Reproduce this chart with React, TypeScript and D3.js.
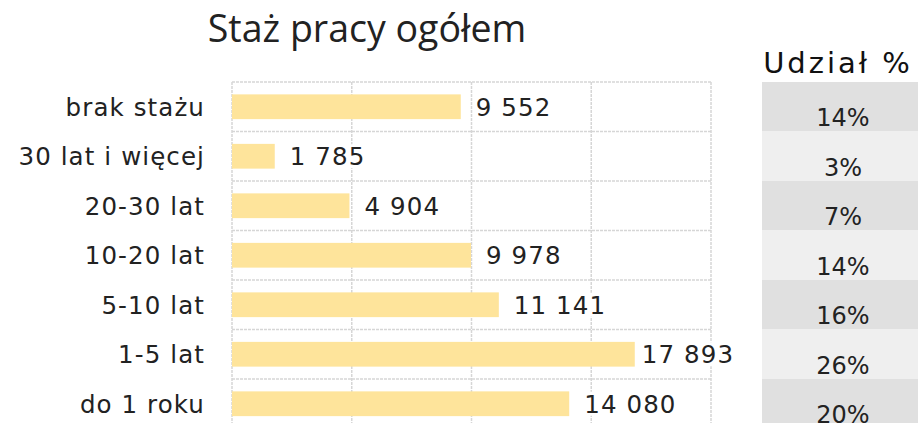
import React from "react";
import * as d3 from "d3";

const categories = ["brak stażu", "30 lat i więcej", "20-30 lat", "10-20 lat", "5-10 lat", "1-5 lat", "do 1 roku"];
const values = [9552, 1785, 4904, 9978, 11141, 17893, 14080];
const xTicks = [0, 5000, 10000, 15000, 20000];
const title = "Staż pracy ogółem";
const tableTitle = "Udział %";

const W = 918;
const H = 423;
const FONT = "'DejaVu Sans', sans-serif";
const TITLE_FONT = "'Open Sans', sans-serif";
const FS = 24.5;
const LS = 1.1;

const pl = d3.formatLocale({ decimal: ",", thousands: "\u00a0", grouping: [3], currency: ["", " zł"] });
const fmtNum = pl.format(",d");
const fmtPct = d3.format(".0%");

function measure(text: string, font: string, ls: number): number {
  if (typeof document === "undefined") return text.length * 13;
  const c = document.createElement("canvas");
  const ctx = c.getContext("2d");
  if (!ctx) return text.length * 13;
  ctx.font = font;
  return ctx.measureText(text).width + ls * (text.length - 1);
}

export default function App() {
  const x = d3.scaleLinear().domain([0, 20000]).range([232, 711]);
  const rows = d3.scaleBand<string>().domain(categories).range([82, 82 + 7 * 49.5]).padding(0);
  const step = rows.bandwidth();
  const total = d3.sum(values);
  const labelLimit = 733;
  const valFont = `${FS}px ${FONT}`;

  return (
    <svg width={W} height={H} style={{ position: "absolute", left: 0, top: 0, display: "block", background: "#fff" }}>
      <text x={367} y={42} textAnchor="middle" fontFamily={TITLE_FONT} fontSize={37.5} fill="#222">{title}</text>

      {/* grid */}
      <g stroke="#d6d6d6" strokeWidth={1.5} strokeDasharray="3 1">
        {xTicks.map((t) => (
          <line key={"v" + t} x1={x(t)} x2={x(t)} y1={rows.range()[0]} y2={rows.range()[1]} />
        ))}
        {categories.map((c) => (
          <line key={"h" + c} x1={x(0)} x2={x(20000)} y1={rows(c)!} y2={rows(c)!} />
        ))}
        <line x1={x(0)} x2={x(20000)} y1={rows.range()[1]} y2={rows.range()[1]} />
      </g>

      {/* bars & labels */}
      {categories.map((c, i) => {
        const v = values[i];
        const label = fmtNum(v);
        const lw = measure(label, valFont, LS);
        let barEnd = x(v);
        let lx = barEnd + 15;
        if (lx + lw > labelLimit) {
          lx = labelLimit - lw;
          barEnd = lx - 7;
        }
        const y0 = rows(c)!;
        const cy = y0 + step / 2;
        return (
          <g key={c}>
            <rect x={x(0)} y={y0 + step * 0.25} width={barEnd - x(0)} height={step * 0.5} fill="#fee49b" />
            <rect x={lx - 2} y={cy - 12} width={lw + 4} height={24} fill="#fff" />
            <text x={lx} y={cy + 9} fontFamily={FONT} fontSize={FS} letterSpacing={LS} fill="#222">{label}</text>
            <text x={205} y={cy + 9} textAnchor="end" fontFamily={FONT} fontSize={FS} letterSpacing={LS} fill="#222">{c}</text>
          </g>
        );
      })}

      {/* share table */}
      <text x={838} y={73} textAnchor="middle" fontFamily={FONT} fontSize={29} letterSpacing={3} fill="#111">{tableTitle}</text>
      {categories.map((c, i) => {
        const y0 = rows(c)!;
        return (
          <g key={"t" + c}>
            <rect x={762} y={y0} width={W - 762} height={step} fill={i % 2 === 0 ? "#e0e0e0" : "#efefef"} />
            <text x={843} y={y0 + 44} textAnchor="middle" fontFamily={FONT} fontSize={24} fill="#222">{fmtPct(values[i] / total)}</text>
          </g>
        );
      })}
    </svg>
  );
}
